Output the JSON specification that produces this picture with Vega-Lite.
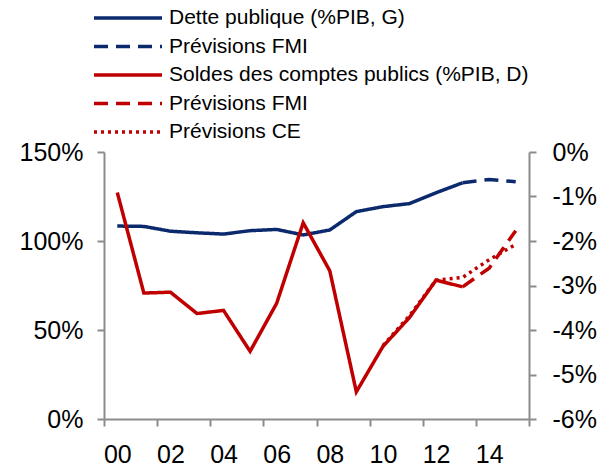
{
  "$schema": "https://vega.github.io/schema/vega-lite/v6.json",
  "width": 425,
  "height": 267,
  "autosize": {"type": "none"},
  "padding": {"left": 104, "top": 152, "right": 86, "bottom": 48},
  "background": "white",
  "config": {
    "view": {"stroke": null},
    "font": "Liberation Sans",
    "axis": {
      "grid": false,
      "domainColor": "#8c8c8c",
      "tickColor": "#8c8c8c",
      "domainWidth": 2,
      "tickWidth": 2,
      "tickSize": 7,
      "labelFont": "Liberation Sans",
      "labelFontSize": 25,
      "labelColor": "#000000",
      "title": null
    }
  },
  "data": {
    "values": [
      {"series": "a", "g": "L", "year": 2000, "value": 108.4},
      {"series": "a", "g": "L", "year": 2001, "value": 108.2},
      {"series": "a", "g": "L", "year": 2002, "value": 105.5},
      {"series": "a", "g": "L", "year": 2003, "value": 104.6},
      {"series": "a", "g": "L", "year": 2004, "value": 103.9},
      {"series": "a", "g": "L", "year": 2005, "value": 105.8},
      {"series": "a", "g": "L", "year": 2006, "value": 106.5},
      {"series": "a", "g": "L", "year": 2007, "value": 103.4},
      {"series": "a", "g": "L", "year": 2008, "value": 106.2},
      {"series": "a", "g": "L", "year": 2009, "value": 116.5},
      {"series": "a", "g": "L", "year": 2010, "value": 119.3},
      {"series": "a", "g": "L", "year": 2011, "value": 121.0},
      {"series": "a", "g": "L", "year": 2012, "value": 127.1},
      {"series": "a", "g": "L", "year": 2013, "value": 132.7},
      {"series": "b", "g": "L", "year": 2013, "value": 132.7},
      {"series": "b", "g": "L", "year": 2014, "value": 134.6},
      {"series": "b", "g": "L", "year": 2015, "value": 133.3},
      {"series": "c", "g": "R", "year": 2000, "value": -0.91},
      {"series": "c", "g": "R", "year": 2001, "value": -3.17},
      {"series": "c", "g": "R", "year": 2002, "value": -3.15},
      {"series": "c", "g": "R", "year": 2003, "value": -3.63},
      {"series": "c", "g": "R", "year": 2004, "value": -3.56},
      {"series": "c", "g": "R", "year": 2005, "value": -4.48},
      {"series": "c", "g": "R", "year": 2006, "value": -3.4},
      {"series": "c", "g": "R", "year": 2007, "value": -1.59},
      {"series": "c", "g": "R", "year": 2008, "value": -2.67},
      {"series": "c", "g": "R", "year": 2009, "value": -5.39},
      {"series": "c", "g": "R", "year": 2010, "value": -4.37},
      {"series": "c", "g": "R", "year": 2011, "value": -3.72},
      {"series": "c", "g": "R", "year": 2012, "value": -2.88},
      {"series": "c", "g": "R", "year": 2013, "value": -3.03},
      {"series": "d", "g": "R", "year": 2013, "value": -3.03},
      {"series": "d", "g": "R", "year": 2014, "value": -2.61},
      {"series": "d", "g": "R", "year": 2015, "value": -1.77},
      {"series": "e", "g": "R", "year": 2010, "value": -4.35},
      {"series": "e", "g": "R", "year": 2011, "value": -3.68},
      {"series": "e", "g": "R", "year": 2012, "value": -2.88},
      {"series": "e", "g": "R", "year": 2013, "value": -2.82},
      {"series": "e", "g": "R", "year": 2014, "value": -2.42},
      {"series": "e", "g": "R", "year": 2015, "value": -2.08}
    ]
  },
  "encoding": {
    "x": {
      "field": "year",
      "type": "quantitative",
      "scale": {"domain": [1999.5, 2015.5], "nice": false, "zero": false},
      "axis": {
        "values": [1999.5, 2000, 2001.5, 2002, 2003.5, 2004, 2005.5, 2006, 2007.5, 2008, 2009.5, 2010, 2011.5, 2012, 2013.5, 2014, 2015.5],
        "tickOpacity": {"condition": {"test": "datum.value % 1 == 0", "value": 0}, "value": 1},
        "labelExpr": "datum.value % 1 == 0 ? slice(toString(datum.value), 2) : ''",
        "labelOverlap": false,
        "labelFlush": false,
        "labelPadding": 16
      }
    },
    "color": {
      "field": "series",
      "type": "nominal",
      "scale": {"domain": ["a", "b", "c", "d", "e"], "range": ["#0b2a6e", "#0b2a6e", "#c00000", "#c00000", "#c00000"]},
      "legend": {
        "orient": "none",
        "legendX": -12,
        "legendY": -144,
        "title": null,
        "symbolType": "stroke",
        "symbolSize": 4624,
        "symbolStrokeWidth": 3.5,
        "labelFontSize": 21,
        "labelFont": "Liberation Sans",
        "labelColor": "#000000",
        "labelOffset": 5,
        "rowPadding": 7.5,
        "clipHeight": 20,
        "padding": 0,
        "labelLimit": 500,
        "labelExpr": "datum.value == 'a' ? 'Dette publique (%PIB, G)' : datum.value == 'b' ? 'Prévisions FMI' : datum.value == 'c' ? 'Soldes des comptes publics (%PIB, D)' : datum.value == 'd' ? 'Prévisions FMI' : 'Prévisions CE'"
      }
    },
    "strokeDash": {
      "field": "series",
      "type": "nominal",
      "scale": {"domain": ["a", "b", "c", "d", "e"], "range": [[1, 0], [14, 8], [1, 0], [14, 8], [3, 4]]}
    }
  },
  "layer": [
    {
      "transform": [{"filter": "datum.g == 'L'"}],
      "mark": {"type": "line", "strokeWidth": 3.5},
      "encoding": {
        "y": {
          "field": "value",
          "type": "quantitative",
          "scale": {"domain": [0, 150], "nice": false},
          "axis": {"orient": "left", "values": [0, 50, 100, 150], "labelExpr": "datum.value + '%'", "labelPadding": 14}
        }
      }
    },
    {
      "transform": [{"filter": "datum.g == 'R'"}],
      "mark": {"type": "line", "strokeWidth": 3.5},
      "encoding": {
        "y": {
          "field": "value",
          "type": "quantitative",
          "scale": {"domain": [-6, 0], "nice": false, "zero": false},
          "axis": {"orient": "right", "values": [-6, -5, -4, -3, -2, -1, 0], "labelExpr": "datum.value + '%'", "labelPadding": 16}
        }
      }
    }
  ],
  "resolve": {"scale": {"y": "independent"}}
}
